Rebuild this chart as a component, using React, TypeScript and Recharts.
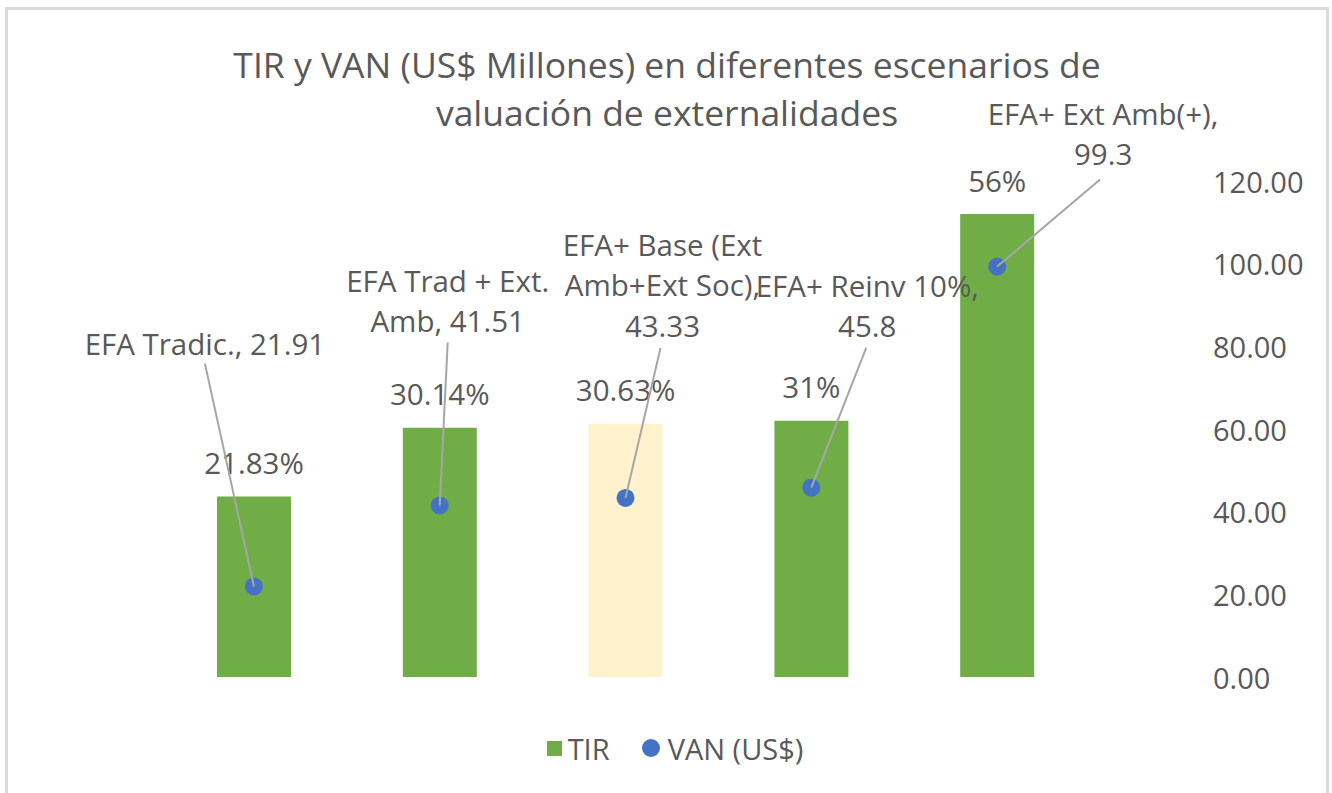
import React from "react";
import { ComposedChart, Bar, Line, XAxis, YAxis, LabelList, Legend, Cell } from "recharts";

const categories = [
  "EFA Tradic.",
  "EFA Trad + Ext. Amb",
  "EFA+ Base (Ext Amb+Ext Soc)",
  "EFA+ Reinv 10%",
  "EFA+ Ext Amb(+)",
];
const tirValues = [21.83, 30.14, 30.63, 31, 56];
const vanValues = [21.91, 41.51, 43.33, 45.8, 99.3];
const rightTicks = [0, 20, 40, 60, 80, 100, 120];
const highlighted = [false, false, true, false, false];

const data = categories.map((c, i) => ({
  name: c,
  tir: tirValues[i],
  van: vanValues[i],
}));

// label layout (styling): label center offset relative to point, leader start offset, wrap width
const labelLayout = [
  { dx: -49, dy: -243, lx: -49, ly: -223, wrap: 18 },
  { dx: 8, dy: -205, lx: 8, ly: -163, wrap: 15 },
  { dx: 37, dy: -213, lx: 35, ly: -150, wrap: 14 },
  { dx: 56, dy: -182, lx: 55, ly: -140, wrap: 15 },
  { dx: 106, dy: -133, lx: 103, ly: -87, wrap: 16 },
];

const FONT = "'Open Sans', sans-serif";
const TEXT = "#595959";
const GREEN = "#70ad47";
const CREAM = "#fff2cc";
const BLUE = "#4472c4";
const LINE_H = 40.5;
const LABEL_SIZE = 29.5;

function wrapText(s: string, max: number): string[] {
  const words = s.split(" ");
  const lines: string[] = [];
  let cur = "";
  for (const w of words) {
    const t = cur ? cur + " " + w : w;
    if (t.length > max && cur) {
      lines.push(cur);
      cur = w;
    } else cur = t;
  }
  if (cur) lines.push(cur);
  return lines;
}

const VanLabel = (props: any) => {
  const { x, y, index, value } = props;
  const lay = labelLayout[index];
  const lines = wrapText(`${categories[index]}, ${value}`, lay.wrap);
  const cx = x + lay.dx;
  const firstY = y + lay.dy - ((lines.length - 1) * LINE_H) / 2;
  return (
    <g>
      <line x1={x + lay.lx} y1={y + lay.ly} x2={x} y2={y} stroke="#a6a6a6" strokeWidth={2} />
      {lines.map((l, k) => (
        <text
          key={k}
          x={cx}
          y={firstY + k * LINE_H}
          textAnchor="middle"
          dominantBaseline="central"
          fontFamily={FONT}
          fontSize={LABEL_SIZE}
          fill={TEXT}
        >
          {l}
        </text>
      ))}
    </g>
  );
};

const TirLabel = (props: any) => {
  const { x, y, width, value } = props;
  return (
    <text
      x={x + width / 2}
      y={y - 34}
      textAnchor="middle"
      dominantBaseline="central"
      fontFamily={FONT}
      fontSize={LABEL_SIZE}
      fill={TEXT}
    >
      {`${value}%`}
    </text>
  );
};

const RightTick = (props: any) => {
  const { x, y, payload } = props;
  return (
    <text x={x} y={y} textAnchor="start" dominantBaseline="central" fontFamily={FONT} fontSize={29} fill={TEXT}>
      {Number(payload.value).toFixed(2)}
    </text>
  );
};

const LegendContent = () => (
  <div
    style={{
      height: 40,
      display: "flex",
      alignItems: "center",
      justifyContent: "center",
      fontFamily: FONT,
      fontSize: 29,
      color: TEXT,
    }}
  >
    <span style={{ display: "inline-block", width: 15, height: 15, background: GREEN, marginRight: 6 }} />
    <span style={{ marginRight: 32 }}>TIR</span>
    <span
      style={{ display: "inline-block", width: 18, height: 18, borderRadius: 9, background: BLUE, marginRight: 8 }}
    />
    <span>VAN (US$)</span>
  </div>
);

export default function App() {
  return (
    <div style={{ position: "absolute", left: 0, top: 0, width: 1332, height: 793, background: "#fff", overflow: "hidden" }}>
      <div
        style={{
          position: "absolute",
          left: 5,
          top: 7,
          width: 1324,
          height: 810,
          border: "3px solid #dadada",
          boxSizing: "border-box",
        }}
      />
      <div
        style={{
          position: "absolute",
          left: 0,
          width: 1334,
          top: 40,
          textAlign: "center",
          fontFamily: FONT,
          fontSize: 35.5,
          lineHeight: "48px",
          color: TEXT,
        }}
      >
        TIR y VAN (US$ Millones) en diferentes escenarios de
        <br />
        valuación de externalidades
      </div>
      <div style={{ position: "absolute", left: 0, top: 0 }}>
        <ComposedChart
          width={1332}
          height={793}
          data={data}
          margin={{ top: 181, left: 161, right: 0, bottom: 76 }}
        >
          <XAxis dataKey="name" hide />
          <YAxis yAxisId="tir" domain={[0, 60]} hide />
          <YAxis
            yAxisId="van"
            orientation="right"
            domain={[0, 120]}
            ticks={rightTicks}
            width={242}
            axisLine={false}
            tickLine={false}
            tickSize={0}
            tickMargin={123}
            tick={<RightTick />}
          />
          <Legend
            verticalAlign="bottom"
            content={<LegendContent />}
            wrapperStyle={{ position: "absolute", top: 728, left: 0, width: 1350, height: 40, bottom: "auto" }}
          />
          <Bar yAxisId="tir" dataKey="tir" name="TIR" barSize={74} fill={GREEN} isAnimationActive={false}>
            {data.map((d, i) => (
              <Cell key={i} fill={highlighted[i] ? CREAM : GREEN} />
            ))}
            <LabelList dataKey="tir" content={<TirLabel />} />
          </Bar>
          <Line
            yAxisId="van"
            dataKey="van"
            name="VAN (US$)"
            stroke="none"
            isAnimationActive={false}
            dot={{ r: 9, fill: BLUE, stroke: "none" }}
            activeDot={false}
          >
            <LabelList dataKey="van" content={<VanLabel />} />
          </Line>
        </ComposedChart>
      </div>
    </div>
  );
}
